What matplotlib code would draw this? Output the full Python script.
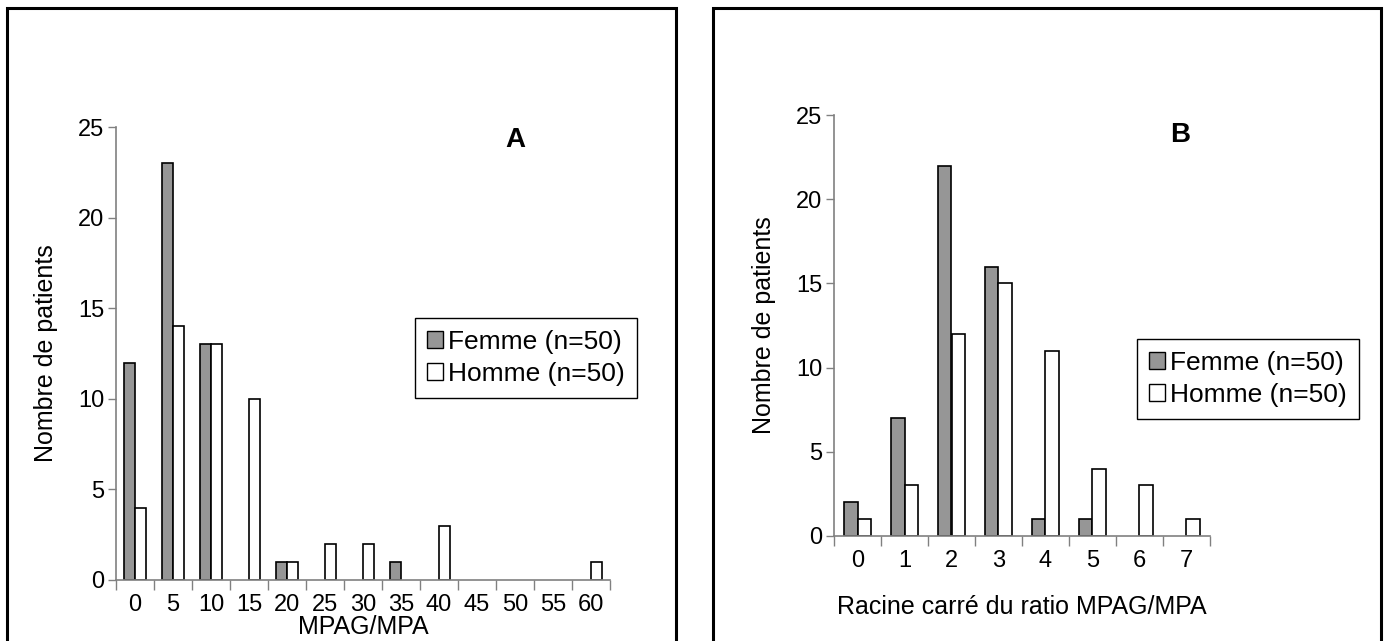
import matplotlib
matplotlib.use("Agg")
import matplotlib.pyplot as plt
import numpy as np
from matplotlib.patches import Rectangle

plt.rcParams['font.family'] = ['Liberation Sans', 'DejaVu Sans']

# panel A data
cats_a = ['0', '5', '10', '15', '20', '25', '30', '35', '40', '45', '50', '55', '60']
femme_a = [12, 23, 13, 0, 1, 0, 0, 1, 0, 0, 0, 0, 0]
homme_a = [4, 14, 13, 10, 1, 2, 2, 0, 3, 0, 0, 0, 1]

# panel B data
cats_b = ['0', '1', '2', '3', '4', '5', '6', '7']
femme_b = [2, 7, 22, 16, 1, 1, 0, 0]
homme_b = [1, 3, 12, 15, 11, 4, 3, 1]

W, H = 1384, 641
fig = plt.figure(figsize=(W / 100, H / 100), dpi=100)

fs_tick = 17
fs_lab = 18
fs_leg = 19
grey = '#969696'
axis_col = '#808080'


def px(x0, y0, x1, y1):
    # pixel box -> figure fraction [left, bottom, width, height]
    return [x0 / W, 1 - y1 / H, (x1 - x0) / W, (y1 - y0) / H]


def draw_panel(rect, cats, femme, homme, xlabel, xlab_y, letter, letter_xy, leg_xy):
    ax = fig.add_axes(rect)
    n = len(cats)
    x = np.arange(n)
    bw = 0.29
    # no outline for empty bars, so the axis stays grey there
    lw_f = [1.2 if v > 0 else 0 for v in femme]
    lw_h = [1.2 if v > 0 else 0 for v in homme]
    ax.bar(x - bw / 2, femme, bw, color=grey, edgecolor='black', linewidth=lw_f,
           label='Femme (n=50)')
    ax.bar(x + bw / 2, homme, bw, color='white', edgecolor='black', linewidth=lw_h,
           label='Homme (n=50)')
    ax.set_xlim(-0.5, n - 0.5)
    ax.set_ylim(0, 25)
    ax.set_yticks([0, 5, 10, 15, 20, 25])
    ax.set_xticks(x)
    ax.set_xticklabels(cats)
    ax.set_xticks(np.arange(n + 1) - 0.5, minor=True)
    ax.tick_params(axis='x', which='major', length=0, pad=10, labelsize=fs_tick)
    ax.tick_params(axis='x', which='minor', length=7, width=1, color=axis_col)
    ax.tick_params(axis='y', length=6, width=1, color=axis_col, labelsize=fs_tick, pad=2.5)
    for s in ['top', 'right']:
        ax.spines[s].set_visible(False)
    for s in ['left', 'bottom']:
        ax.spines[s].set_color(axis_col)
        ax.spines[s].set_linewidth(1.2)
    ax.set_xlabel(xlabel, fontsize=fs_lab, va='center')
    # x label centre given in pixels from the top of the figure
    ax_bottom = (1 - rect[1]) * H
    ax.xaxis.set_label_coords(0.5, -(xlab_y - ax_bottom) / (rect[3] * H))
    ax.set_ylabel('Nombre de patients', fontsize=fs_lab, labelpad=14)
    fig.text(letter_xy[0] / W, 1 - letter_xy[1] / H, letter, fontsize=20,
             fontweight='bold', ha='center', va='center')
    leg = ax.legend(loc='upper left', bbox_to_anchor=(leg_xy[0] / W, 1 - leg_xy[1] / H),
                    bbox_transform=fig.transFigure, fontsize=fs_leg, fancybox=False,
                    framealpha=1, edgecolor='black', handlelength=0.6,
                    handleheight=0.6, handletextpad=0.2, borderpad=0.45,
                    labelspacing=0.3, borderaxespad=0)
    leg.get_frame().set_linewidth(1.0)
    for h in leg.legend_handles:
        h.set_linewidth(1.0)
    return ax


draw_panel(px(116, 127, 610, 580), cats_a, femme_a, homme_a, 'MPAG/MPA', 627, 'A',
           (515, 140), (415, 318))
draw_panel(px(834, 115, 1210, 536), cats_b, femme_b, homme_b,
           'Racine carré du ratio MPAG/MPA', 607, 'B', (1180, 135), (1137, 339))

# outer frames around the two panels (bottom edge runs off the image)
for x0, x1 in [(7, 676), (713, 1381)]:
    fig.patches.append(Rectangle((x0 / W, 1 - 645 / H), (x1 - x0) / W, (645 - 8) / H,
                                 transform=fig.transFigure, fill=False,
                                 edgecolor='black', linewidth=2.2))

fig.savefig('out.png', dpi=100)
